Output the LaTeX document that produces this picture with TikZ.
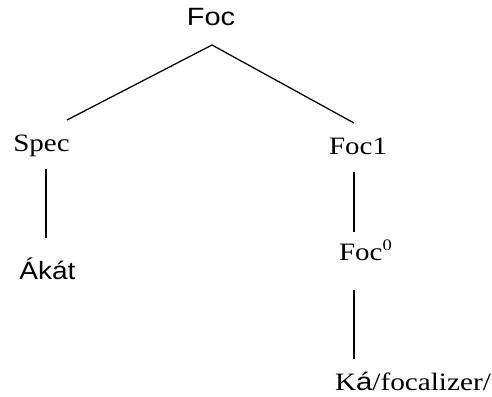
\documentclass[tikz,border=0pt]{standalone}
\usepackage{fontspec}
\setmainfont{Liberation Serif}
\newfontfamily\arialish{Liberation Sans}
\begin{document}
\begin{tikzpicture}[x=1pt,y=-1pt,
  lbl/.style={inner sep=0pt, outer sep=0pt, font=\fontsize{25}{25}\selectfont},
  edge/.style={draw=black, line width=1.25pt}]
\useasboundingbox (0,0) rectangle (492,396);
\node[lbl, anchor=base] (foc) at (211,26) {\scalebox{1.16}[1]{\arialish Foc}};
\node[lbl, anchor=base] (spec) at (41.5,151) {\scalebox{1.16}[1]{Spec}};
\node[lbl, anchor=base] (foc1) at (358,154) {\scalebox{1.16}[1]{Foc1}};
\node[lbl, anchor=base west] (foc0) at (339,260) {\scalebox{1.16}[1]{Foc\raisebox{10pt}{\fontsize{16}{16}\selectfont 0}}};
\node[lbl, anchor=base] (akat) at (47.5,279) {\scalebox{1.12}[1]{\arialish Ákát}};
\node[lbl, anchor=base west] (ka) at (335,390) {\scalebox{1.17}[1]{K{\arialish á}/focalizer/}};
\coordinate (apex) at ([xshift=1pt,yshift=-19pt]foc.base);
\draw[edge] ([xshift=25.5pt,yshift=31pt]spec.base) -- (apex) -- ([xshift=-4pt,yshift=31pt]foc1.base);
\draw[edge] ([xshift=4.5pt,yshift=-18pt]spec.base) -- ([xshift=-1.5pt,yshift=41pt]akat.base);
\draw[edge] ([xshift=-4pt,yshift=-18pt]foc1.base) -- ([xshift=15pt,yshift=28pt]foc0.base west);
\draw[edge] ([xshift=15pt,yshift=-30pt]foc0.base west) -- ([xshift=19pt,yshift=31pt]ka.base west);
\end{tikzpicture}
\end{document}
